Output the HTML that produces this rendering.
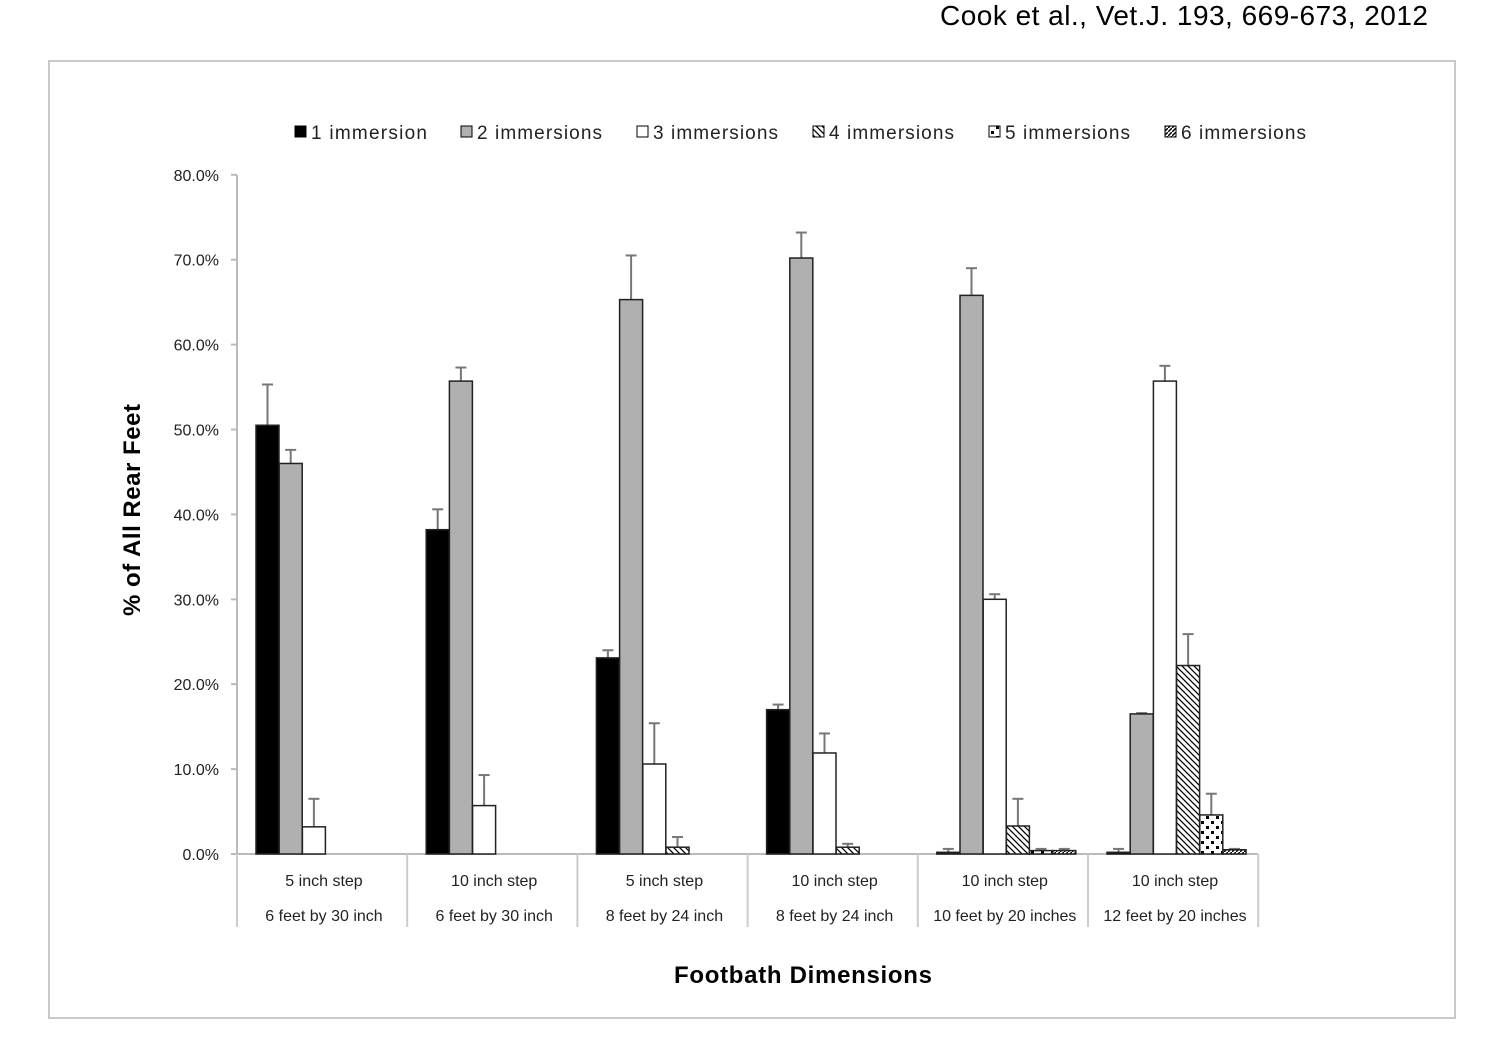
<!DOCTYPE html><html><head><style>body{margin:0;background:#fff}svg{display:block}text{font-family:"Liberation Sans",sans-serif}</style></head><body>
<svg id="s" width="1510" height="1059" xmlns="http://www.w3.org/2000/svg">
<defs>
<pattern id="p4" width="6" height="6" patternUnits="userSpaceOnUse"><rect width="6" height="6" fill="#fff"/><path d="M-1,-1 L7,7 M-4,2 L2,8 M4,-2 L8,2" stroke="#000" stroke-width="1.3"/></pattern>
<pattern id="p5" width="10" height="10" patternUnits="userSpaceOnUse"><rect width="10" height="10" fill="#fff"/><rect x="1" y="1" width="3" height="3" fill="#000"/><rect x="6" y="6" width="3" height="3" fill="#000"/></pattern>
<pattern id="p6" width="4" height="4" patternUnits="userSpaceOnUse"><rect width="4" height="4" fill="#fff"/><path d="M-1,5 L5,-1" stroke="#000" stroke-width="1.5"/></pattern>
</defs>
<text x="1428" y="25" font-size="28" text-anchor="end" textLength="488" font-family="Liberation Sans">Cook et al., Vet.J. 193, 669-673, 2012</text>
<rect x="49" y="61" width="1406" height="957" fill="none" stroke="#c8c8c8" stroke-width="2"/>
<g id="g"></g>
</svg>
<script>
var g=document.getElementById('g'),h='';
var Y=v=>854-v*8.49;
var fills=['#000','#b0b0b0','#fff','url(#p4)','url(#p5)','url(#p6)'];
var names=['1 immersion','2 immersions','3 immersions','4 immersions','5 immersions','6 immersions'];
var lw=[116,125,125,125,125,125];
var lx=[294,460,636,812,988,1164];
for(var i=0;i<6;i++){h+='<rect x="'+(lx[i]+1)+'" y="126" width="11" height="11" fill="'+fills[i]+'" stroke="#000" stroke-width="1"/><text x="'+(lx[i]+17)+'" y="139" font-size="19" textLength="'+lw[i]+'" fill="#222">'+names[i]+'</text>';}
for(var t=0;t<=8;t++){var y=Y(t*10);h+='<line x1="231" x2="237" y1="'+y+'" y2="'+y+'" stroke="#bbb" stroke-width="2"/><text x="219" y="'+(y+6)+'" font-size="16" text-anchor="end" fill="#222">'+(t*10)+'.0%</text>';}
h+='<line x1="237" x2="237" y1="175" y2="854" stroke="#bbb" stroke-width="2"/><line x1="237" x2="1258" y1="854" y2="854" stroke="#bbb" stroke-width="2"/>';
var data=[[[50.5,55.3],[46,47.6],[3.2,6.5]],[[38.2,40.6],[55.7,57.3],[5.7,9.3]],[[23.1,24],[65.3,70.5],[10.6,15.4],[0.8,2]],[[17,17.6],[70.2,73.2],[11.9,14.2],[0.8,1.2]],[[0.2,0.6],[65.8,69],[30,30.6],[3.3,6.5],[0.4,0.6],[0.4,0.6]],[[0.2,0.6],[16.5,16.6],[55.7,57.5],[22.2,25.9],[4.6,7.1],[0.5,0.6]]];
var c1=['5 inch step','10 inch step','5 inch step','10 inch step','10 inch step','10 inch step'];
var c2=['6 feet by 30 inch','6 feet by 30 inch','8 feet by 24 inch','8 feet by 24 inch','10 feet by 20 inches','12 feet by 20 inches'];
for(var k=0;k<6;k++){var gx=237+k*170.2;
 data[k].forEach(function(d,j){var x=gx+19+j*23.2,ye=Y(d[1]),yv=Y(d[0]);
  h+='<line x1="'+(x+11.5)+'" x2="'+(x+11.5)+'" y1="'+ye+'" y2="'+yv+'" stroke="#777" stroke-width="2"/><line x1="'+(x+6)+'" x2="'+(x+17)+'" y1="'+ye+'" y2="'+ye+'" stroke="#777" stroke-width="2"/>';
  h+='<rect x="'+x+'" y="'+yv+'" width="23" height="'+(854-yv)+'" fill="'+fills[j]+'" stroke="#222" stroke-width="1.5"/>';});
 h+='<line x1="'+(gx+170.2)+'" x2="'+(gx+170.2)+'" y1="854" y2="927" stroke="#ccc" stroke-width="2"/>';
 h+='<text x="'+(gx+87)+'" y="886" font-size="16" text-anchor="middle" fill="#222">'+c1[k]+'</text><text x="'+(gx+87)+'" y="921" font-size="16" text-anchor="middle" fill="#222">'+c2[k]+'</text>';}
h+='<line x1="237" x2="237" y1="854" y2="927" stroke="#ccc" stroke-width="2"/>';
h+='<text x="803" y="983" font-size="24" font-weight="bold" text-anchor="middle" textLength="258">Footbath Dimensions</text>';
h+='<text transform="translate(140,510) rotate(-90)" font-size="24" font-weight="bold" text-anchor="middle" textLength="212">% of All Rear Feet</text>';
g.innerHTML=h;
</script>
</body></html>
